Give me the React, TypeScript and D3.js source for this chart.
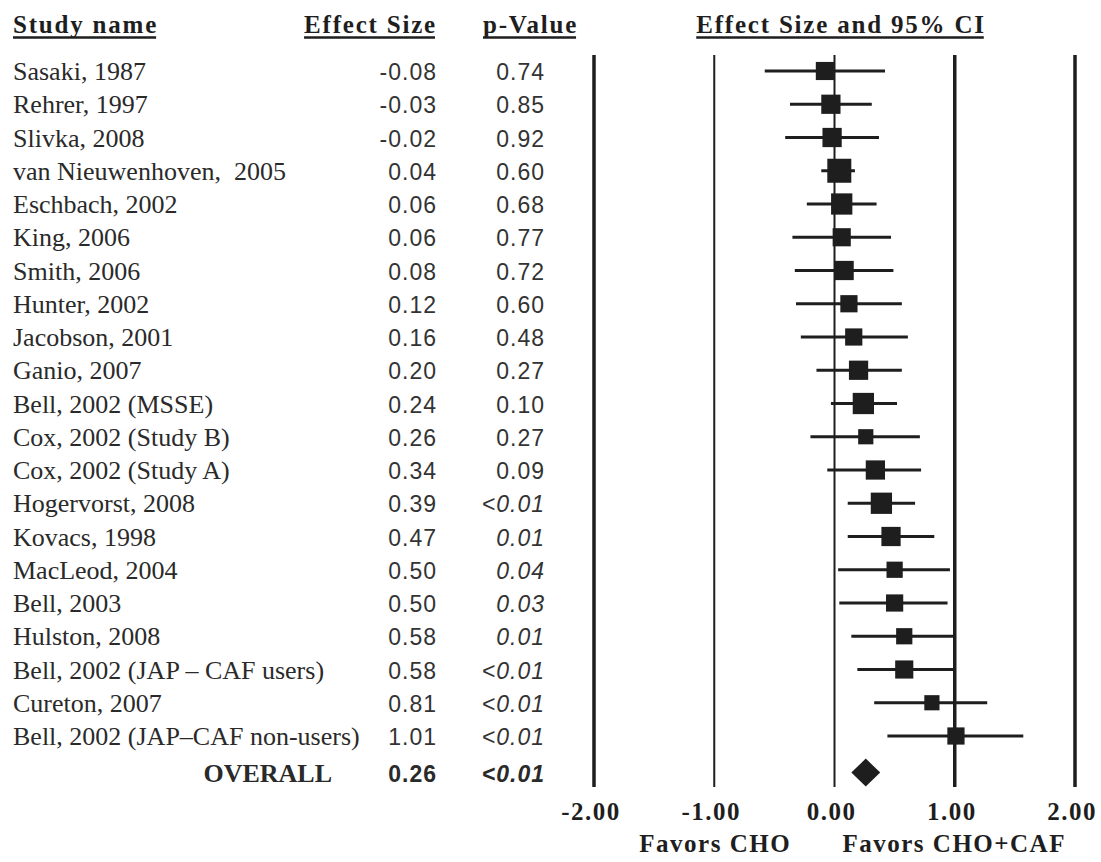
import React, { useEffect, useRef } from "react";
import * as d3 from "d3";

const studyNames = [
  "Sasaki, 1987",
  "Rehrer, 1997",
  "Slivka, 2008",
  "van Nieuwenhoven,  2005",
  "Eschbach, 2002",
  "King, 2006",
  "Smith, 2006",
  "Hunter, 2002",
  "Jacobson, 2001",
  "Ganio, 2007",
  "Bell, 2002 (MSSE)",
  "Cox, 2002 (Study B)",
  "Cox, 2002 (Study A)",
  "Hogervorst, 2008",
  "Kovacs, 1998",
  "MacLeod, 2004",
  "Bell, 2003",
  "Hulston, 2008",
  "Bell, 2002 (JAP \u2013 CAF users)",
  "Cureton, 2007",
  "Bell, 2002 (JAP\u2013CAF non-users)",
];
const effectSizes = [-0.08, -0.03, -0.02, 0.04, 0.06, 0.06, 0.08, 0.12, 0.16, 0.2, 0.24, 0.26, 0.34, 0.39, 0.47, 0.5, 0.5, 0.58, 0.58, 0.81, 1.01];
const pValues = ["0.74", "0.85", "0.92", "0.60", "0.68", "0.77", "0.72", "0.60", "0.48", "0.27", "0.10", "0.27", "0.09", "<0.01", "0.01", "0.04", "0.03", "0.01", "<0.01", "<0.01", "<0.01"];
const pItalic = [false, false, false, false, false, false, false, false, false, false, false, false, false, true, true, true, true, true, true, true, true];
const lowerCI = [-0.58, -0.37, -0.41, -0.11, -0.23, -0.35, -0.33, -0.32, -0.28, -0.15, -0.03, -0.2, -0.06, 0.11, 0.11, 0.03, 0.04, 0.14, 0.19, 0.33, 0.44];
const upperCI = [0.42, 0.31, 0.37, 0.17, 0.35, 0.47, 0.49, 0.56, 0.61, 0.56, 0.52, 0.71, 0.72, 0.67, 0.83, 0.96, 0.94, 0.99, 0.99, 1.27, 1.57];
const weights = [4.0, 4.5, 4.5, 7.0, 5.5, 4.0, 4.5, 3.6, 3.6, 4.5, 5.5, 2.8, 4.5, 5.5, 4.5, 3.2, 3.6, 3.2, 4.0, 2.8, 3.6];

const overallLabel = "OVERALL";
const overallEffect = 0.26;
const overallP = "<0.01";
const overallLower = 0.14;
const overallUpper = 0.38;

const axisTicks = [-2, -1, 0, 1, 2];
const headers = ["Study name", "Effect Size", "p-Value", "Effect Size and 95% CI"];
const favorLabels = ["Favors CHO", "Favors CHO+CAF"];

const fmt = d3.formatLocale({
  decimal: ".",
  thousands: ",",
  grouping: [3],
  currency: ["", ""],
  minus: "-",
}).format(".2f");

export default function App() {
  const ref = useRef<SVGSVGElement | null>(null);

  useEffect(() => {
    const svg = d3.select(ref.current);
    svg.selectAll("*").remove();

    const serif = "'Liberation Serif', 'Times New Roman', serif";
    const sans = "'Liberation Sans', Arial, sans-serif";
    const ink = "#1e1e1e";

    const x = d3.scaleLinear().domain([-2, 2]).range([594, 1075]);
    const y = d3.scaleLinear().domain([0, 20]).range([71, 736]);
    const yOverall = y(21.1);
    const size = d3.scaleSqrt().domain([0, 7]).range([0, 24]);

    // headers
    const headerSpecs = [
      { t: headers[0], x: 13, anchor: "start" },
      { t: headers[1], x: 437, anchor: "end" },
      { t: headers[2], x: 483, anchor: "start" },
      { t: headers[3], x: 841, anchor: "middle" },
    ];
    headerSpecs.forEach((h) => {
      const txt = svg
        .append("text")
        .attr("x", h.x)
        .attr("y", 33)
        .attr("text-anchor", h.anchor)
        .attr("font-family", serif)
        .attr("font-weight", "bold")
        .attr("font-size", 25)
        .attr("letter-spacing", 1.8)
        .attr("fill", ink)
        .text(h.t);
      const bb = (txt.node() as SVGTextElement).getBBox();
      svg
        .append("line")
        .attr("x1", bb.x)
        .attr("x2", bb.x + bb.width - 2)
        .attr("y1", 37.5)
        .attr("y2", 37.5)
        .attr("stroke", ink)
        .attr("stroke-width", 2.5);
    });

    // vertical reference lines
    const yTop = 55;
    const yBot = 787;
    svg
      .append("g")
      .selectAll("line")
      .data(axisTicks)
      .join("line")
      .attr("x1", (d) => x(d))
      .attr("x2", (d) => x(d))
      .attr("y1", yTop)
      .attr("y2", yBot)
      .attr("stroke", ink)
      .attr("stroke-width", (d) => (d === -1 || d === 0 ? 2 : 3.5));

    // tick labels
    svg
      .append("g")
      .selectAll("text")
      .data(axisTicks)
      .join("text")
      .attr("x", (d) => x(d) - 3)
      .attr("y", 820)
      .attr("text-anchor", "middle")
      .attr("font-family", serif)
      .attr("font-weight", "bold")
      .attr("font-size", 25)
      .attr("letter-spacing", 1.5)
      .attr("fill", ink)
      .text((d) => fmt(d));

    svg
      .append("text")
      .attr("x", x(-1) + 1)
      .attr("y", 852)
      .attr("text-anchor", "middle")
      .attr("font-family", serif)
      .attr("font-weight", "bold")
      .attr("font-size", 25)
      .attr("letter-spacing", 1.5)
      .attr("fill", ink)
      .text(favorLabels[0]);
    svg
      .append("text")
      .attr("x", x(0) + 8)
      .attr("y", 852)
      .attr("text-anchor", "start")
      .attr("font-family", serif)
      .attr("font-weight", "bold")
      .attr("font-size", 25)
      .attr("letter-spacing", 1.5)
      .attr("fill", ink)
      .text(favorLabels[1]);

    // rows
    const rows = studyNames.map((n, i) => ({
      name: n,
      es: effectSizes[i],
      p: pValues[i],
      it: pItalic[i],
      lo: lowerCI[i],
      hi: upperCI[i],
      w: weights[i],
      i,
    }));

    const g = svg.append("g");
    g.selectAll("text.name")
      .data(rows)
      .join("text")
      .attr("class", "name")
      .attr("x", 13)
      .attr("y", (d) => y(d.i) + 9)
      .attr("font-family", serif)
      .attr("font-size", 26)
      .attr("fill", "#2a2a2a")
      .style("white-space", "pre")
      .text((d) => d.name);

    g.selectAll("text.es")
      .data(rows)
      .join("text")
      .attr("class", "es")
      .attr("x", 437)
      .attr("y", (d) => y(d.i) + 9)
      .attr("text-anchor", "end")
      .attr("font-family", sans)
      .attr("font-size", 23)
      .attr("letter-spacing", 1)
      .attr("fill", "#333")
      .text((d) => fmt(d.es));

    g.selectAll("text.p")
      .data(rows)
      .join("text")
      .attr("class", "p")
      .attr("x", 545)
      .attr("y", (d) => y(d.i) + 9)
      .attr("text-anchor", "end")
      .attr("font-family", sans)
      .attr("font-size", 23)
      .attr("letter-spacing", 1)
      .attr("font-style", (d) => (d.it ? "italic" : "normal"))
      .attr("fill", "#333")
      .text((d) => d.p);

    // CI lines
    g.selectAll("line.ci")
      .data(rows)
      .join("line")
      .attr("class", "ci")
      .attr("x1", (d) => x(d.lo))
      .attr("x2", (d) => x(d.hi))
      .attr("y1", (d) => y(d.i))
      .attr("y2", (d) => y(d.i))
      .attr("stroke", ink)
      .attr("stroke-width", 3);

    g.selectAll("rect.sq")
      .data(rows)
      .join("rect")
      .attr("class", "sq")
      .attr("x", (d) => x(d.es) - size(d.w) / 2)
      .attr("y", (d) => y(d.i) - size(d.w) / 2)
      .attr("width", (d) => size(d.w))
      .attr("height", (d) => size(d.w))
      .attr("fill", ink);

    // overall
    svg
      .append("text")
      .attr("x", 332)
      .attr("y", yOverall + 9)
      .attr("text-anchor", "end")
      .attr("font-family", serif)
      .attr("font-weight", "bold")
      .attr("font-size", 26)
      .attr("fill", "#2a2a2a")
      .text(overallLabel);
    svg
      .append("text")
      .attr("x", 437)
      .attr("y", yOverall + 9)
      .attr("text-anchor", "end")
      .attr("font-family", sans)
      .attr("font-weight", "bold")
      .attr("font-size", 23)
      .attr("letter-spacing", 1)
      .attr("fill", "#2a2a2a")
      .text(fmt(overallEffect));
    svg
      .append("text")
      .attr("x", 545)
      .attr("y", yOverall + 9)
      .attr("text-anchor", "end")
      .attr("font-family", sans)
      .attr("font-weight", "bold")
      .attr("font-style", "italic")
      .attr("font-size", 23)
      .attr("letter-spacing", 1)
      .attr("fill", "#2a2a2a")
      .text(overallP);

    const dh = 14;
    const pts: [number, number][] = [
      [x(overallLower), yOverall],
      [x(overallEffect), yOverall - dh],
      [x(overallUpper), yOverall],
      [x(overallEffect), yOverall + dh],
    ];
    svg
      .append("path")
      .attr("d", d3.line()(pts) + "Z")
      .attr("fill", ink);
  }, []);

  return (
    <svg
      ref={ref}
      width={1101}
      height={862}
      style={{ position: "absolute", left: 0, top: 0, background: "#fff" }}
    />
  );
}
